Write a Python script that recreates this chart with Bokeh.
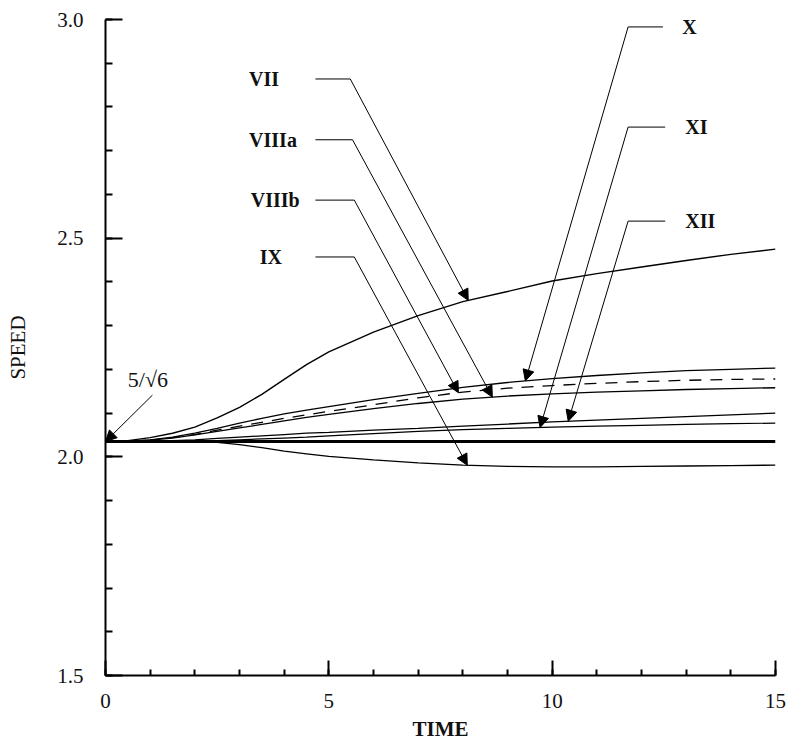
import numpy as np
from bokeh.plotting import figure
from bokeh.models import Range1d, SingleIntervalTicker, Arrow, NormalHead, Label, CustomJSTickFormatter
from bokeh.embed import file_html
from bokeh.resources import INLINE

# ---------------- data ----------------
time = [0, 0.5, 1, 1.5, 2, 2.5, 3, 3.5, 4, 4.5, 5, 6, 7, 8, 9, 10, 11, 12, 13, 14, 15]
speed_VII = [2.035, 2.037, 2.044, 2.054, 2.068, 2.089, 2.113, 2.143, 2.177, 2.211, 2.240,
             2.285, 2.323, 2.355, 2.378, 2.402, 2.419, 2.434, 2.449, 2.463, 2.475]
speed_X = [2.035, 2.036, 2.039, 2.045, 2.054, 2.065, 2.077, 2.088, 2.098, 2.107, 2.115,
           2.131, 2.145, 2.159, 2.170, 2.179, 2.186, 2.192, 2.197, 2.200, 2.203]
speed_VIIIb = [2.035, 2.036, 2.038, 2.044, 2.051, 2.061, 2.070, 2.079, 2.088, 2.096, 2.104,
               2.119, 2.135, 2.148, 2.157, 2.163, 2.168, 2.172, 2.175, 2.177, 2.178]
speed_VIIIa = [2.035, 2.036, 2.038, 2.043, 2.050, 2.058, 2.066, 2.074, 2.082, 2.090, 2.097,
               2.110, 2.122, 2.132, 2.139, 2.144, 2.148, 2.151, 2.154, 2.156, 2.158]
speed_XII = [2.035, 2.035, 2.036, 2.037, 2.039, 2.042, 2.045, 2.048, 2.051, 2.054, 2.056,
             2.061, 2.065, 2.070, 2.075, 2.080, 2.084, 2.088, 2.092, 2.096, 2.100]
speed_XI = [2.035, 2.035, 2.035, 2.036, 2.036, 2.037, 2.039, 2.041, 2.043, 2.045, 2.048,
            2.053, 2.058, 2.062, 2.065, 2.068, 2.070, 2.072, 2.074, 2.076, 2.077]
speed_IX = [2.035, 2.035, 2.035, 2.035, 2.035, 2.033, 2.028, 2.021, 2.013, 2.007, 2.001,
            1.993, 1.986, 1.981, 1.978, 1.977, 1.977, 1.978, 1.979, 1.980, 1.981]
base_time = [0, 15]
base_speed = [2.035, 2.035]   # 5/sqrt(6)

x_ticks_major = 5
y_ticks_major = 0.5

FONT = "Liberation Serif, Times New Roman, serif"

p = figure(width=787, height=743, output_backend="svg", toolbar_location=None,
           x_range=Range1d(0, 15), y_range=Range1d(1.5, 3.0),
           min_border_left=105, min_border_right=12, min_border_top=19, min_border_bottom=68)
p.outline_line_color = None
p.xgrid.visible = False
p.ygrid.visible = False

# curves
p.line(time, speed_VII, line_color="black", line_width=1.4)
p.line(time, speed_X, line_color="black", line_width=1.3)
p.line(time, speed_VIIIb, line_color="black", line_width=1.3, line_dash="12 9")
p.line(time, speed_VIIIa, line_color="black", line_width=1.3)
p.line(time, speed_XII, line_color="black", line_width=1.3)
p.line(time, speed_XI, line_color="black", line_width=1.2)
p.line(time, speed_IX, line_color="black", line_width=1.3)
p.line(base_time, base_speed, line_color="black", line_width=3)

# axes
for ax in (p.xaxis[0], p.yaxis[0]):
    ax.axis_line_width = 2
    ax.axis_line_color = "black"
    ax.major_tick_line_width = 2
    ax.minor_tick_line_width = 2
    ax.major_tick_out = 0
    ax.minor_tick_out = 0
    ax.major_label_text_font = FONT
    ax.major_label_text_font_size = "21px"
    ax.major_label_text_color = "#111111"
    ax.axis_label_text_font = FONT
    ax.axis_label_text_font_size = "21px"
    ax.axis_label_text_color = "#111111"

p.xaxis.ticker = SingleIntervalTicker(interval=x_ticks_major, num_minor_ticks=5)
p.yaxis.ticker = SingleIntervalTicker(interval=y_ticks_major, num_minor_ticks=5)
p.xaxis.major_tick_in = 15
p.xaxis.minor_tick_in = 6
p.yaxis.major_tick_in = 17
p.yaxis.minor_tick_in = 7
p.yaxis.formatter = CustomJSTickFormatter(code="return tick.toFixed(1);")
p.xaxis.major_label_standoff = 18
p.yaxis.major_label_standoff = 22
p.xaxis.axis_label = "TIME"
p.yaxis.axis_label = "SPEED"
p.xaxis.axis_label_text_font_style = "bold"
p.yaxis.axis_label_text_font_style = "normal"
p.xaxis.axis_label_standoff = 6
p.yaxis.axis_label_standoff = 24

# annotations: label, text x, text y, leader start x, leader bend x, tip x, series
left_labels = [
    ("VII", 3.55, 2.864, 4.70, 5.48, 8.12, speed_VII),
    ("VIIIa", 3.75, 2.725, 4.70, 5.53, 8.66, speed_VIIIa),
    ("VIIIb", 3.80, 2.587, 4.70, 5.57, 7.90, speed_VIIIb),
    ("IX", 3.70, 2.457, 4.70, 5.57, 8.10, speed_IX),
]
right_labels = [
    ("X", 12.91, 2.983, 12.48, 11.70, 9.40, speed_X),
    ("XI", 12.98, 2.754, 12.53, 11.70, 9.73, speed_XI),
    ("XII", 12.98, 2.539, 12.53, 11.70, 10.36, speed_XII),
]

def add_leader(name, tx, ty, x0, x1, xtip, series, align):
    ytip = float(np.interp(xtip, time, series))
    p.line([x0, x1], [ty, ty], line_color="black", line_width=1)
    p.add_layout(Arrow(end=NormalHead(size=11, fill_color="black", line_color="black", line_width=1),
                       x_start=x1, y_start=ty, x_end=xtip, y_end=ytip,
                       line_color="black", line_width=1))
    p.add_layout(Label(x=tx, y=ty, text=name, text_font=FONT, text_font_size="20px",
                       text_font_style="bold", text_align=align, text_baseline="middle",
                       text_color="#111111"))

for name, tx, ty, x0, x1, xtip, s in left_labels:
    add_leader(name, tx, ty, x0, x1, xtip, s, "center")
for name, tx, ty, x0, x1, xtip, s in right_labels:
    add_leader(name, tx, ty, x0, x1, xtip, s, "left")

# 5/sqrt(6) marker
p.add_layout(Arrow(end=NormalHead(size=11, fill_color="black", line_color="black", line_width=1),
                   x_start=1.05, y_start=2.141, x_end=0.0, y_end=base_speed[0],
                   line_color="black", line_width=1))
p.add_layout(Label(x=0.50, y=2.148, text="5/√6", text_font=FONT, text_font_size="22px",
                   text_color="#111111"))

open("out.html", "w").write(file_html(p, INLINE))
